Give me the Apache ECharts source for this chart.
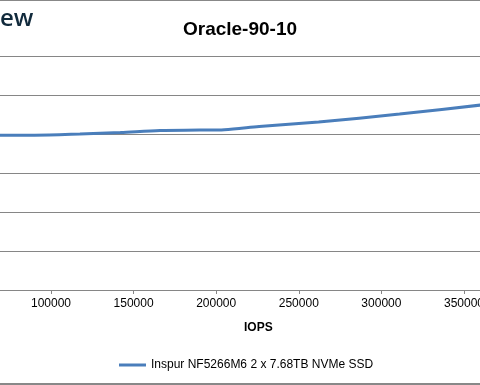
<!DOCTYPE html>
<html>
<head>
<meta charset="utf-8">
<script src="https://cdn.jsdelivr.net/npm/echarts@6/dist/echarts.min.js"></script>
<style>
html,body{margin:0;padding:0;background:#fff;overflow:hidden;}
#chart{width:480px;height:385px;}
</style>
</head>
<body>
<div id="chart"></div>
<script>
// Data read from the (cropped) reference picture
const chartTitle = "Oracle-90-10";
const xAxisName = "IOPS";
const seriesName = "Inspur NF5266M6 2 x 7.68TB NVMe SSD";
const xTicks = [100000, 150000, 200000, 250000, 300000, 350000];
const iops = [60000, 90000, 117500, 142000, 166000, 190000, 205000, 226000, 262000, 311000, 370000];
const latency = [0.397, 0.397, 0.400, 0.404, 0.409, 0.410, 0.411, 0.419, 0.431, 0.451, 0.479];

const points = iops.map((v, i) => [v, latency[i]]);

const chart = echarts.init(document.getElementById('chart'), null, {renderer: 'canvas', width: 480, height: 385});
const font = '"Liberation Sans", Arial, sans-serif';
chart.setOption({
  animation: false,
  backgroundColor: '#fff',
  title: {
    text: chartTitle,
    left: 'center',
    top: 15,
    textStyle: {fontFamily: font, fontSize: 19, fontWeight: 'bold', color: '#000'}
  },
  grid: {left: 0, right: 0, top: 56, bottom: 95, containLabel: false, outerBoundsMode: 'none'},
  xAxis: {
    type: 'value',
    min: 69130, max: 359690,
    axisLine: {show: true, lineStyle: {color: '#868686', width: 1}},
    axisTick: {show: true, length: 4, customValues: xTicks, lineStyle: {color: '#868686'}},
    splitLine: {show: false},
    axisLabel: {fontFamily: font, fontSize: 12, color: '#000', margin: 8, customValues: xTicks,
      formatter: v => String(v)}
  },
  yAxis: {
    type: 'value',
    min: 0, max: 0.6, interval: 0.1,
    axisLine: {show: false},
    axisTick: {show: false},
    axisLabel: {show: false},
    splitLine: {show: true, lineStyle: {color: '#868686', width: 1}}
  },
  legend: {
    left: 119, top: 359,
    padding: 0,
    icon: 'rect',
    itemWidth: 27, itemHeight: 3,
    itemGap: 4,
    textStyle: {fontFamily: font, fontSize: 12, color: '#000'},
    data: [seriesName]
  },
  graphic: [
    {type: 'rect', shape: {x: 0, y: 0, width: 480, height: 1}, style: {fill: '#888'}},
    {type: 'rect', shape: {x: 0, y: 383, width: 480, height: 2}, style: {fill: '#888'}},
    {type: 'text', left: 0, top: 7, style: {text: 'ew', font: '600 24px "Open Sans", sans-serif', fill: '#112a3c'}},
    {type: 'text', left: 244, top: 322, style: {text: xAxisName, font: 'bold 12px "Liberation Sans", Arial, sans-serif', fill: '#000'}}
  ],
  series: [{
    name: seriesName,
    type: 'line',
    data: points,
    smooth: 0.3,
    showSymbol: false,
    clip: true,
    lineStyle: {color: '#4a7ebb', width: 3},
    itemStyle: {color: '#4a7ebb'}
  }]
});
</script>
</body>
</html>
